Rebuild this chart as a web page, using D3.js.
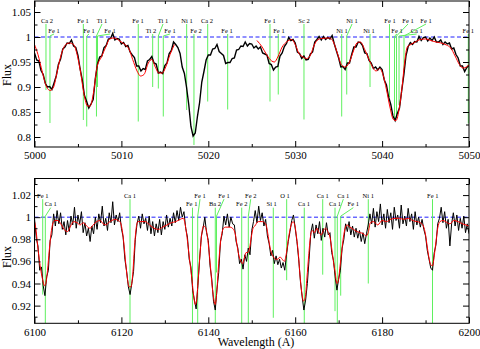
<!DOCTYPE html>
<html>
<head>
<meta charset="utf-8">
<script src="https://cdn.jsdelivr.net/npm/d3@7"></script>
<style>
  body { margin: 0; background: #fff; }
  svg { display: block; }
  svg text { font-family: "Liberation Serif", "DejaVu Serif", serif; }
</style>
</head>
<body>
<div id="chart"></div>
<script>
// ---------- top panel data (5000-5050 A) ----------
const topObsStart = 5000;
const topObsStep = 0.25;
const topObsFlux = [
  0.968,0.954,0.952,0.933,0.925,0.907,0.900,0.901,
  0.895,0.908,0.922,0.945,0.956,0.976,0.980,0.988,
  0.987,0.994,0.982,0.979,0.963,0.936,0.914,0.883,
  0.871,0.858,0.866,0.875,0.917,0.946,0.960,0.962,
  0.979,0.983,0.996,0.997,1.007,0.994,0.997,0.996,
  0.986,0.989,0.981,0.983,0.970,0.964,0.959,0.942,
  0.942,0.932,0.937,0.935,0.952,0.955,0.961,0.948,
  0.946,0.928,0.930,0.927,0.943,0.948,0.967,0.973,
  0.990,0.985,0.979,0.967,0.940,0.927,0.899,0.865,
  0.821,0.802,0.808,0.841,0.869,0.910,0.931,0.954,
  0.964,0.964,0.976,0.977,0.985,0.971,0.967,0.963,
  0.947,0.949,0.949,0.957,0.958,0.974,0.975,0.982,
  0.981,0.990,0.982,0.987,0.986,0.978,0.982,0.976,
  0.980,0.968,0.966,0.964,0.947,0.945,0.934,0.940,
  0.941,0.962,0.968,0.981,0.987,0.999,0.993,0.995,
  0.988,0.970,0.967,0.957,0.962,0.954,0.955,0.966,
  0.970,0.990,0.995,1.001,0.994,1.001,0.995,0.999,
  0.996,1.003,0.986,0.972,0.958,0.940,0.941,0.935,
  0.948,0.948,0.965,0.980,0.980,0.990,0.989,0.983,
  0.968,0.967,0.953,0.948,0.937,0.940,0.934,0.940,
  0.935,0.914,0.904,0.880,0.865,0.842,0.833,0.847,
  0.858,0.892,0.924,0.963,0.981,0.989,0.985,0.991,
  0.990,1.001,0.993,0.999,1.000,0.992,0.998,0.993,
  1.000,0.990,0.990,0.994,0.985,0.990,0.986,0.988,
  0.976,0.978,0.965,0.958,0.942,0.942,0.931,0.939,
  0.943
];
// synthetic fit, two pieces
const topModelA = [
  [5000.0,0.985],[5000.4,0.965],[5000.9,0.93],[5001.4,0.90],[5001.8,0.893],[5002.2,0.90],
  [5002.6,0.93],[5003.0,0.96],[5003.5,0.983],[5004.0,0.988],[5004.5,0.985],[5004.9,0.965],
  [5005.3,0.93],[5005.7,0.885],[5006.1,0.862],[5006.4,0.862],[5006.8,0.89],[5007.2,0.94],
  [5007.7,0.96],[5008.2,0.98],[5008.7,0.997],[5009.2,0.998],[5009.8,0.992],[5010.4,0.985],
  [5010.9,0.975],[5011.3,0.955],[5011.8,0.932],[5012.2,0.922],[5012.6,0.925],[5013.1,0.948],
  [5013.5,0.955],[5013.9,0.94],[5014.3,0.928],[5014.7,0.928],[5015.1,0.94],[5015.6,0.965],
  [5016.1,0.985]
];
const topModelB = [
  [5025.6,0.993],[5026.2,0.98],[5026.7,0.965],[5027.3,0.952],[5027.6,0.95],[5028.0,0.96],
  [5028.5,0.98],[5029.0,0.99],[5029.6,0.995],[5030.0,0.985],[5030.4,0.968],[5030.9,0.96],
  [5031.3,0.957],[5031.7,0.962],[5032.1,0.98],[5032.5,0.993],[5033.0,0.997],[5034.0,0.998],
  [5034.4,0.99],[5034.9,0.965],[5035.3,0.945],[5035.7,0.94],[5036.2,0.948],[5036.7,0.972],
  [5037.1,0.988],[5037.5,0.99],[5038.0,0.975],[5038.5,0.955],[5038.9,0.94],[5039.3,0.932],
  [5039.7,0.937],[5040.1,0.925],[5040.5,0.895],[5040.9,0.86],[5041.3,0.835],[5041.6,0.833],
  [5042.0,0.86],[5042.3,0.9],[5042.6,0.95],[5042.9,0.98],[5043.3,0.985],[5043.8,0.99],
  [5044.4,0.995],[5045.0,0.996],[5045.6,0.993],[5046.2,0.99],[5046.8,0.988],[5047.4,0.984],
  [5047.9,0.978],[5048.4,0.962],[5048.9,0.945],[5049.3,0.938],[5049.7,0.94],[5050.0,0.945]
];
const topLineIon = ["Ca 2","Fe 1","Fe 1","Fe 1","Ti 1","Fe 1","Fe 1","Ti 2","Ti 1","Fe 1","Ni 1","Fe 2","Ca 2",
  "Fe 1","Fe 1","Fe 1","Sc 2","Ni 1","Ni 1","Ni 1","Fe 1","Fe 1","Fe 1","Ca 1","Fe 1","Fe 1"];
const topLineWl = [5001.32,5001.78,5005.62,5006.01,5007.13,5007.25,5011.94,5013.60,5014.25,5014.82,5017.51,5018.35,5019.93,
  5022.23,5027.10,5028.05,5031.01,5035.35,5035.93,5038.61,5040.85,5041.43,5041.66,5041.95,5042.52,5049.92];
const topLabelWl = [5001.44,5002.24,5005.58,5006.27,5007.77,5008.69,5011.91,5013.41,5014.79,5015.59,5017.55,5018.58,5019.85,
  5022.15,5027.10,5028.13,5031.01,5035.38,5036.54,5038.49,5040.91,5041.72,5042.98,5043.98,5045.05,5049.92];
const topLabelRow = [1,2,1,2,1,2,1,2,1,2,1,2,1,2,1,2,1,2,1,2,1,2,1,2,1,2];
const topLineDepth = [0.894,0.828,0.834,0.821,0.841,0.90,0.831,0.90,0.897,0.841,0.854,0.784,0.871,
  0.855,0.871,0.885,0.835,0.841,0.885,0.90,0.88,0.834,0.838,0.864,0.934,0.827];
const topXTicks = [5000,5010,5020,5030,5040,5050];
const topXTickLabels = ["5000","5010","5020","5030","5040","5050"];
const topXMinor = [5005,5015,5025,5035,5045];
const topYTicks = [0.8,0.85,0.9,0.95,1,1.05];
const topYTickLabels = ["0.8","0.85","0.9","0.95","1","1.05"];
const topYMinor = [0.825,0.875,0.925,0.975,1.025];

// ---------- bottom panel data (6100-6200 A) ----------
const bottomObsStart = 6100;
const bottomObsStep = 0.4;
const bottomObsFlux = [
  0.999,0.981,0.974,0.952,0.955,0.938,0.929,0.946,0.952,0.979,
  0.984,1.003,0.992,1.006,0.994,1.004,0.989,0.996,0.984,0.997,
  0.987,1.001,0.993,1.009,0.990,1.002,0.994,1.005,0.986,0.995,
  0.983,0.990,0.978,0.992,0.985,1.000,0.989,1.003,0.995,1.010,
  0.992,0.999,0.988,1.004,0.995,1.014,0.993,1.002,0.996,1.004,
  0.990,0.982,0.962,0.951,0.937,0.930,0.940,0.951,0.980,0.994,
  1.001,0.990,1.003,0.994,0.999,0.988,1.001,0.985,0.996,0.983,
  0.994,0.986,0.998,0.984,0.996,0.989,1.002,0.991,0.999,0.992,
  1.004,0.995,1.006,0.997,1.009,1.000,1.005,0.990,0.982,0.962,
  0.955,0.934,0.925,0.917,0.938,0.962,0.983,0.990,1.000,0.986,
  0.979,0.956,0.944,0.924,0.916,0.935,0.950,0.978,0.985,1.001,
  0.993,1.003,0.991,1.000,0.994,0.993,0.978,0.972,0.958,0.962,
  0.953,0.966,0.960,0.972,0.966,0.988,0.996,1.006,0.995,1.010,
  0.997,1.004,0.992,0.998,0.983,0.976,0.965,0.970,0.958,0.965,
  0.957,0.962,0.954,0.959,0.952,0.966,0.978,0.987,0.997,1.002,
  0.990,0.978,0.962,0.942,0.928,0.916,0.925,0.940,0.962,0.986,
  0.994,0.981,0.993,0.985,0.996,0.979,0.990,0.982,0.995,0.984,
  0.986,0.968,0.961,0.946,0.934,0.944,0.952,0.972,0.980,0.994,
  0.987,0.996,0.984,0.992,0.982,0.990,0.981,0.988,0.978,0.986,
  0.976,0.985,0.993,1.003,0.994,1.008,0.991,1.005,0.996,1.012,
  0.993,1.003,0.990,1.007,0.995,1.004,0.989,1.009,0.997,1.002,
  0.990,1.011,0.994,1.001,0.992,1.008,0.996,1.003,0.989,1.005,
  0.993,1.000,0.991,0.998,0.989,0.983,0.970,0.962,0.954,0.952,
  0.968,0.975,0.994,0.999,1.009,0.995,1.005,0.990,0.998,0.974,
  0.994,1.004,0.992,1.002,0.988,0.999,0.990,1.001,0.986,0.994,
  0.985
];
const bottomModel = [
  [6100.0,0.996],[6100.3,0.990],[6100.7,0.975],[6101.1,0.962],[6101.5,0.951],[6101.9,0.943],
  [6102.3,0.938],[6102.6,0.940],[6103.0,0.952],[6103.4,0.970],[6103.8,0.985],[6104.2,0.994],
  [6104.7,0.997],[6105.4,0.997],[6106.2,0.993],[6107.0,0.988],[6107.6,0.987],[6108.3,0.992],
  [6109.0,0.996],[6109.8,0.995],[6110.5,0.993],[6111.2,0.995],[6112.0,0.992],[6112.8,0.990],
  [6113.5,0.993],[6114.3,0.996],[6115.1,0.997],[6115.8,0.994],[6116.5,0.993],[6117.0,0.995],
  [6117.8,0.997],[6118.5,0.998],[6119.3,0.997],[6119.8,0.995],[6120.2,0.988],[6120.6,0.975],
  [6121.0,0.958],[6121.4,0.944],[6121.8,0.937],[6122.2,0.937],[6122.6,0.948],[6123.0,0.972],
  [6123.4,0.990],[6123.8,0.996],[6124.5,0.996],[6125.5,0.996],[6126.5,0.993],[6127.5,0.990],
  [6128.5,0.989],[6129.5,0.991],[6130.5,0.993],[6131.5,0.995],[6132.5,0.996],[6133.5,0.998],
  [6134.3,0.999],[6134.6,0.995],[6135.0,0.985],[6135.4,0.972],[6135.8,0.958],[6136.2,0.945],
  [6136.6,0.930],[6137.0,0.921],[6137.3,0.925],[6137.7,0.945],[6138.1,0.967],[6138.5,0.985],
  [6138.9,0.992],[6139.3,0.991],[6139.7,0.985],[6140.1,0.972],[6140.5,0.955],[6140.9,0.937],
  [6141.3,0.925],[6141.6,0.921],[6141.9,0.930],[6142.3,0.953],[6142.7,0.973],[6143.1,0.985],
  [6143.5,0.990],[6144.0,0.991],[6145.0,0.991],[6145.8,0.989],[6146.2,0.985],[6146.6,0.975],
  [6147.0,0.966],[6147.5,0.960],[6147.9,0.958],[6148.3,0.963],[6148.7,0.968],[6149.1,0.968],
  [6149.5,0.972],[6149.9,0.982],[6150.3,0.990],[6150.7,0.992],[6151.5,0.996],[6152.5,0.996],
  [6153.3,0.993],[6153.7,0.985],[6154.1,0.975],[6154.5,0.968],[6155.0,0.964],[6155.5,0.962],
  [6156.0,0.962],[6156.5,0.964],[6157.0,0.962],[6157.5,0.960],[6158.0,0.968],[6158.5,0.982],
  [6159.0,0.992],[6159.5,0.996],[6159.9,0.993],[6160.3,0.982],[6160.7,0.968],[6161.1,0.948],
  [6161.5,0.932],[6161.9,0.924],[6162.3,0.927],[6162.7,0.945],[6163.1,0.965],[6163.5,0.982],
  [6163.9,0.988],[6164.4,0.986],[6165.0,0.990],[6165.5,0.986],[6166.0,0.984],[6166.5,0.988],
  [6167.0,0.990],[6167.5,0.987],[6168.0,0.982],[6168.4,0.972],[6168.8,0.960],[6169.2,0.950],
  [6169.6,0.940],[6169.9,0.942],[6170.3,0.955],[6170.7,0.969],[6171.1,0.982],[6171.5,0.990],
  [6171.9,0.993],[6172.6,0.991],[6173.4,0.989],[6174.2,0.987],[6175.0,0.986],[6175.7,0.985],
  [6176.3,0.983],[6176.8,0.986],[6177.3,0.995],[6178.0,0.996],[6179.0,0.993],[6180.0,0.997],
  [6181.0,0.996],[6182.0,0.998],[6183.0,0.999],[6184.0,0.999],[6185.0,0.998],[6186.0,0.999],
  [6187.0,0.997],[6188.0,0.996],[6188.8,0.995],[6189.5,0.992],[6190.0,0.984],[6190.4,0.973],
  [6190.8,0.963],[6191.2,0.957],[6191.6,0.956],[6192.0,0.965],[6192.4,0.978],[6192.8,0.990],
  [6193.3,0.996],[6194.0,0.997],[6195.0,0.995],[6195.6,0.994],[6196.5,0.997],[6197.5,0.996],
  [6198.5,0.994],[6199.3,0.993],[6200.0,0.992]
];
const bottomLineIon = ["Fe 1","Ca 1","Ca 1","Fe 1","Fe 1","Ba 2","Fe 1","Fe 2","Fe 2","Si 1","O 1","Ca 1",
  "Ca 1","Ca 1","Ca 1","Fe 1","Ni 1","Fe 1"];
const bottomLineWl = [6101.89,6102.49,6121.98,6136.36,6137.56,6141.61,6141.89,6147.69,6149.21,6154.96,6158.04,6162.09,
  6166.33,6169.16,6169.69,6170.47,6176.82,6191.60];
const bottomLabelWl = [6101.89,6103.73,6121.98,6136.18,6138.09,6141.54,6143.61,6147.69,6149.76,6154.59,6157.65,6162.03,
  6166.33,6169.16,6171.07,6173.37,6176.82,6191.65];
const bottomLabelRow = [1,2,1,2,1,2,1,2,1,2,1,2,1,2,1,2,1,1];
const bottomLineDepth = [0.93,0.904,0.904,0.904,0.904,0.904,0.95,0.904,0.904,0.909,0.943,0.904,
  0.948,0.915,0.904,0.929,0.94,0.904];
const bottomXTicks = [6100,6120,6140,6160,6180,6200];
const bottomXTickLabels = ["6100","6120","6140","6160","6180","6200"];
const bottomXMinor = [6110,6130,6150,6170,6190];
const bottomYTicks = [0.92,0.94,0.96,0.98,1,1.02];
const bottomYTickLabels = ["0.92","0.94","0.96","0.98","1","1.02"];
const bottomYMinor = [0.91,0.93,0.95,0.97,0.99,1.01,1.03];

// ---------- drawing ----------
const width = 480;
const height = 349;
const left = 34.5, right = 469;
const serif = "'Liberation Serif', 'DejaVu Serif', serif";

const svg = d3.select("#chart")
    .append("svg")
    .attr("width", width)
    .attr("height", height)
    .attr("font-family", serif);

function drawPanel(p) {
    const x = d3.scaleLinear().domain(p.wlDomain).range([left, right]);
    const y = d3.scaleLinear().domain(p.fluxDomain).range([p.bottom, p.top]);
    const g = svg.append("g");

    g.append("clipPath").attr("id", p.id + "-clip")
        .append("rect")
        .attr("x", left).attr("y", p.top)
        .attr("width", right - left).attr("height", p.bottom - p.top);
    const plot = g.append("g").attr("clip-path", `url(#${p.id}-clip)`);

    // continuum level
    plot.append("line")
        .attr("x1", left).attr("x2", right)
        .attr("y1", y(1)).attr("y2", y(1))
        .attr("stroke", "#2020ff")
        .attr("stroke-width", 1)
        .attr("stroke-dasharray", "4,2.5");

    // line identifications
    const rowBase = {1: y(1) + p.row1Off, 2: y(1) + p.row2Off};
    p.ions.forEach((ion, i) => {
        const lx = x(p.labelWl[i]);
        const wx = x(p.lineWl[i]);
        const base = rowBase[p.rows[i]];
        let yTop = base + 1.5;
        if (Math.abs(lx - wx) > 2) {
            const yEnd = y(1) - 1;
            plot.append("line")
                .attr("x1", lx).attr("y1", base + 1.5)
                .attr("x2", wx).attr("y2", yEnd)
                .attr("stroke", "#5ff05f").attr("stroke-width", 1);
            yTop = yEnd;
        }
        plot.append("line")
            .attr("x1", wx).attr("x2", wx)
            .attr("y1", yTop).attr("y2", y(p.depth[i]))
            .attr("stroke", "#5ff05f").attr("stroke-width", 1);
        g.append("text")
            .attr("x", lx).attr("y", base)
            .attr("text-anchor", "middle")
            .attr("font-family", serif)
            .attr("font-size", "6.5px")
            .attr("fill", "#000")
            .text(ion);
    });

    // observed spectrum
    const obsLine = d3.line()
        .x((f, i) => x(p.obsStart + i * p.obsStep))
        .y(f => y(f));
    plot.append("path")
        .datum(p.obsFlux)
        .attr("d", obsLine)
        .attr("fill", "none")
        .attr("stroke", "#000")
        .attr("stroke-width", p.obsWidth);

    // synthetic fit
    const modelLine = d3.line()
        .x(d => x(d[0]))
        .y(d => y(d[1]))
        .curve(d3.curveMonotoneX);
    p.model.forEach(seg => {
        plot.append("path")
            .datum(seg)
            .attr("d", modelLine)
            .attr("fill", "none")
            .attr("stroke", "#ff0000")
            .attr("stroke-width", 1);
    });

    // axes, ticks inside on all four sides
    const styleAxis = sel => {
        sel.attr("font-family", serif);
        sel.select(".domain").remove();
        sel.selectAll("line").attr("stroke", "#000");
        sel.selectAll("text")
            .attr("font-family", serif)
            .attr("font-size", "11px")
            .attr("fill", "#000");
    };
    g.append("g").attr("transform", `translate(0,${p.bottom})`)
        .call(d3.axisBottom(x).tickValues(p.xTicks).tickSize(-6).tickPadding(4.5)
            .tickFormat((d, i) => p.xTickLabels[i]))
        .call(styleAxis);
    g.append("g").attr("transform", `translate(0,${p.bottom})`)
        .call(d3.axisBottom(x).tickValues(p.xMinor).tickSize(-3).tickFormat(""))
        .call(styleAxis);
    g.append("g").attr("transform", `translate(0,${p.top})`)
        .call(d3.axisTop(x).tickValues(p.xTicks).tickSize(-6).tickFormat(""))
        .call(styleAxis);
    g.append("g").attr("transform", `translate(0,${p.top})`)
        .call(d3.axisTop(x).tickValues(p.xMinor).tickSize(-3).tickFormat(""))
        .call(styleAxis);
    g.append("g").attr("transform", `translate(${left},0)`)
        .call(d3.axisLeft(y).tickValues(p.yTicks).tickSize(-6).tickPadding(3.5)
            .tickFormat((d, i) => p.yTickLabels[i]))
        .call(styleAxis);
    g.append("g").attr("transform", `translate(${left},0)`)
        .call(d3.axisLeft(y).tickValues(p.yMinor).tickSize(-3).tickFormat(""))
        .call(styleAxis);
    g.append("g").attr("transform", `translate(${right},0)`)
        .call(d3.axisRight(y).tickValues(p.yTicks).tickSize(-6).tickFormat(""))
        .call(styleAxis);
    g.append("g").attr("transform", `translate(${right},0)`)
        .call(d3.axisRight(y).tickValues(p.yMinor).tickSize(-3).tickFormat(""))
        .call(styleAxis);

    g.append("rect")
        .attr("x", left).attr("y", p.top)
        .attr("width", right - left).attr("height", p.bottom - p.top)
        .attr("fill", "none")
        .attr("stroke", "#000")
        .attr("stroke-width", 1);

    g.append("text")
        .attr("transform", `translate(11,${p.fluxLabelY}) rotate(-90)`)
        .attr("text-anchor", "middle")
        .attr("font-family", serif)
        .attr("font-size", "12px")
        .text("Flux");
}

drawPanel({
    id: "top",
    wlDomain: [5000, 5050], fluxDomain: [0.78, 1.072],
    top: 1, bottom: 147,
    obsStart: topObsStart, obsStep: topObsStep, obsFlux: topObsFlux, obsWidth: 1.4,
    model: [topModelA, topModelB],
    ions: topLineIon, lineWl: topLineWl, labelWl: topLabelWl, rows: topLabelRow, depth: topLineDepth,
    row1Off: -14.5, row2Off: -4.5,
    xTicks: topXTicks, xTickLabels: topXTickLabels, xMinor: topXMinor,
    yTicks: topYTicks, yTickLabels: topYTickLabels, yMinor: topYMinor,
    fluxLabelY: 75
});

drawPanel({
    id: "bottom",
    wlDomain: [6100, 6200], fluxDomain: [0.904, 1.035],
    top: 178.5, bottom: 323.3,
    obsStart: bottomObsStart, obsStep: bottomObsStep, obsFlux: bottomObsFlux, obsWidth: 1,
    model: [bottomModel],
    ions: bottomLineIon, lineWl: bottomLineWl, labelWl: bottomLabelWl, rows: bottomLabelRow, depth: bottomLineDepth,
    row1Off: -19.5, row2Off: -11,
    xTicks: bottomXTicks, xTickLabels: bottomXTickLabels, xMinor: bottomXMinor,
    yTicks: bottomYTicks, yTickLabels: bottomYTickLabels, yMinor: bottomYMinor,
    fluxLabelY: 257
});

svg.append("text")
    .attr("x", 256)
    .attr("y", 346)
    .attr("text-anchor", "middle")
    .attr("font-family", serif)
    .attr("font-size", "12px")
    .text("Wavelength (A)");
</script>
</body>
</html>
